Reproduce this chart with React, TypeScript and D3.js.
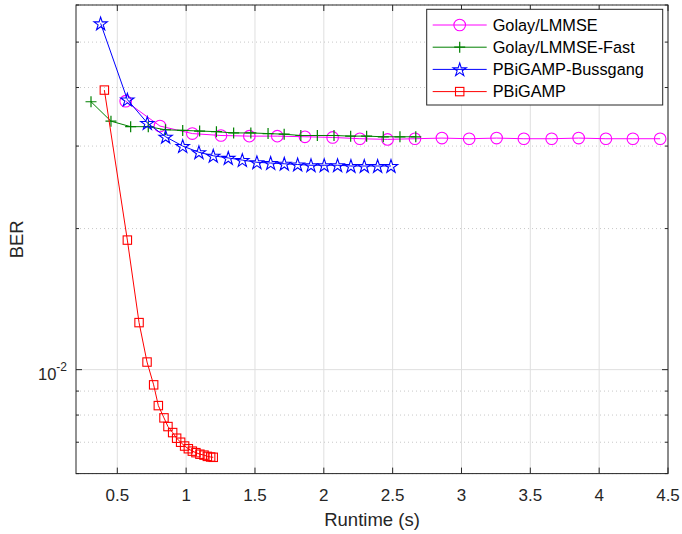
import React from "react";
import * as d3 from "d3";

const golayX = [0.561, 0.81, 1.045, 1.253, 1.459, 1.662, 1.863, 2.064, 2.262, 2.463, 2.662, 2.858, 3.056, 3.255, 3.453, 3.655, 3.851, 4.049, 4.245, 4.443];
const golayY = [0.0374, 0.0331, 0.0319, 0.0316, 0.0315, 0.0315, 0.0314, 0.0313, 0.0311, 0.031, 0.0311, 0.0312, 0.0311, 0.0312, 0.0311, 0.0311, 0.0312, 0.0311, 0.0311, 0.0311];

const fastX = [0.309, 0.454, 0.597, 0.725, 0.85, 0.975, 1.098, 1.22, 1.345, 1.47, 1.595, 1.712, 1.833, 1.953, 2.074, 2.195, 2.311, 2.432, 2.553, 2.668];
const fastY = [0.0373, 0.0339, 0.033, 0.033, 0.0325, 0.0324, 0.0323, 0.0322, 0.032, 0.032, 0.0319, 0.0318, 0.0316, 0.0316, 0.0316, 0.0315, 0.0315, 0.0314, 0.0314, 0.0314];

const bussX = [0.379, 0.573, 0.718, 0.851, 0.975, 1.093, 1.197, 1.306, 1.408, 1.514, 1.614, 1.713, 1.81, 1.907, 2.003, 2.1, 2.197, 2.294, 2.391, 2.488];
const bussY = [0.0548, 0.0377, 0.0336, 0.0314, 0.03, 0.0291, 0.0286, 0.0283, 0.028, 0.0277, 0.0276, 0.0275, 0.0274, 0.0273, 0.0273, 0.0273, 0.0272, 0.0272, 0.0272, 0.0272];

const pbX = [0.406, 0.573, 0.658, 0.716, 0.764, 0.798, 0.839, 0.868, 0.902, 0.931, 0.96, 0.989, 1.016, 1.045, 1.071, 1.1, 1.13, 1.154, 1.178, 1.197];
const pbY = [0.0395, 0.0189, 0.0126, 0.01038, 0.00928, 0.00838, 0.00789, 0.00756, 0.00734, 0.00714, 0.007, 0.00687, 0.00678, 0.0067, 0.00665, 0.0066, 0.00657, 0.00653, 0.00651, 0.0065];

const xTicks = [0.5, 1, 1.5, 2, 2.5, 3, 3.5, 4, 4.5];
const xTickLabels = ["0.5", "1", "1.5", "2", "2.5", "3", "3.5", "4", "4.5"];
const yMajor = [0.01];
const yMinor = [0.006, 0.007, 0.008, 0.009, 0.02, 0.03, 0.04, 0.05, 0.06];

const seriesNames = ["Golay/LMMSE", "Golay/LMMSE-Fast", "PBiGAMP-Bussgang", "PBiGAMP"];
const seriesColors = ["#ff00ff", "#008000", "#0000ff", "#ff0000"];
const seriesMarkers = ["circle", "plus", "star", "square"];

const W = 682, H = 534;
const L = 76, R = 668, T = 5, B = 473.6;

function starPath(cx: number, cy: number, ro: number) {
  const ri = ro * 0.382;
  const pts: string[] = [];
  for (let i = 0; i < 10; i++) {
    const r = i % 2 === 0 ? ro : ri;
    const a = -Math.PI / 2 + (i * Math.PI) / 5;
    pts.push(`${(cx + r * Math.cos(a)).toFixed(2)},${(cy + r * Math.sin(a)).toFixed(2)}`);
  }
  return "M" + pts.join("L") + "Z";
}

function Marker({ type, x, y, color }: { type: string; x: number; y: number; color: string }) {
  if (type === "circle") return <circle cx={x} cy={y} r={5.8} fill="none" stroke={color} strokeWidth={1.1} />;
  if (type === "square") return <rect x={x - 4.2} y={y - 4.2} width={8.4} height={8.4} fill="none" stroke={color} strokeWidth={1.1} />;
  if (type === "plus")
    return (
      <path d={`M${x - 5.5},${y}H${x + 5.5}M${x},${y - 5.5}V${y + 5.5}`} stroke={color} strokeWidth={1.2} fill="none" />
    );
  return <path d={starPath(x, y + 0.6, 7)} fill="none" stroke={color} strokeWidth={1.1} />;
}

export default function App() {
  const x = d3.scaleLinear().domain([0.2, 4.5]).range([L, R]);
  const y = d3.scaleLog().domain([0.006, 0.06]).range([B, T]);
  const line = d3
    .line<[number, number]>()
    .x((d) => x(d[0]))
    .y((d) => y(d[1]));

  const series = [
    { xs: golayX, ys: golayY },
    { xs: fastX, ys: fastY },
    { xs: bussX, ys: bussY },
    { xs: pbX, ys: pbY },
  ];

  const axisColor = "#262626";
  const font = "Liberation Sans, Arial, Helvetica, sans-serif";

  return (
    <svg width={W} height={H} style={{ position: "absolute", left: 0, top: 0, background: "#fff" }} fontFamily={font}>
      <rect x={0} y={0} width={W} height={H} fill="#fff" />
      {/* grid */}
      {xTicks.map((t) => (
        <line key={"gx" + t} x1={x(t)} x2={x(t)} y1={T} y2={B} stroke="#dfdfdf" strokeWidth={1} />
      ))}
      {yMinor.map((t) => (
        <line key={"gym" + t} x1={L} x2={R} y1={y(t)} y2={y(t)} stroke="#c8c8c8" strokeWidth={1} strokeDasharray="1,3" />
      ))}
      {yMajor.map((t) => (
        <line key={"gy" + t} x1={L} x2={R} y1={y(t)} y2={y(t)} stroke="#dfdfdf" strokeWidth={1} />
      ))}

      {/* series */}
      {series.map((s, i) => {
        const pts = s.xs.map((v, j) => [v, s.ys[j]] as [number, number]);
        return (
          <g key={"s" + i}>
            <path d={line(pts) || ""} fill="none" stroke={seriesColors[i]} strokeWidth={1} />
            {pts.map((p, j) => (
              <Marker key={j} type={seriesMarkers[i]} x={x(p[0])} y={y(p[1])} color={seriesColors[i]} />
            ))}
          </g>
        );
      })}

      {/* axes box */}
      <rect x={L} y={T} width={R - L} height={B - T} fill="none" stroke={axisColor} strokeWidth={1} />
      {xTicks.map((t) => (
        <g key={"tx" + t}>
          <line x1={x(t)} x2={x(t)} y1={B} y2={B - 6} stroke={axisColor} />
          <line x1={x(t)} x2={x(t)} y1={T} y2={T + 6} stroke={axisColor} />
        </g>
      ))}
      {yMajor.map((t) => (
        <g key={"ty" + t}>
          <line x1={L} x2={L + 6} y1={y(t)} y2={y(t)} stroke={axisColor} />
          <line x1={R} x2={R - 6} y1={y(t)} y2={y(t)} stroke={axisColor} />
        </g>
      ))}
      {yMinor.map((t) => (
        <g key={"tym" + t}>
          <line x1={L} x2={L + 3} y1={y(t)} y2={y(t)} stroke={axisColor} />
          <line x1={R} x2={R - 3} y1={y(t)} y2={y(t)} stroke={axisColor} />
        </g>
      ))}

      {/* tick labels */}
      {xTicks.map((t, i) => (
        <text key={"lx" + t} x={x(t)} y={B + 27} fontSize={17} textAnchor="middle" fill={axisColor}>
          {xTickLabels[i]}
        </text>
      ))}
      {yMajor.map((t) => (
        <text key={"ly" + t} x={L - 9} y={y(t) + 10} fontSize={16.5} textAnchor="end" fill={axisColor}>
          10
          <tspan fontSize={12} dy={-9}>-2</tspan>
        </text>
      ))}

      {/* axis labels */}
      <text x={(L + R) / 2} y={526} fontSize={18.5} textAnchor="middle" fill={axisColor}>
        Runtime (s)
      </text>
      <text transform={`translate(23,${(T + B) / 2}) rotate(-90)`} fontSize={18.5} textAnchor="middle" fill={axisColor}>
        BER
      </text>

      {/* legend */}
      <rect x={426.7} y={9.3} width={236} height={95.7} fill="#fff" stroke={axisColor} strokeWidth={1} />
      {seriesNames.map((n, i) => {
        const cy = 25 + i * 22.2;
        return (
          <g key={"lg" + i}>
            <line x1={432.7} x2={486.7} y1={cy} y2={cy} stroke={seriesColors[i]} strokeWidth={1} />
            <Marker type={seriesMarkers[i]} x={459.7} y={cy} color={seriesColors[i]} />
            <text x={492.7} y={cy + 5.8} fontSize={16.3} fill="#000">
              {n}
            </text>
          </g>
        );
      })}
    </svg>
  );
}
